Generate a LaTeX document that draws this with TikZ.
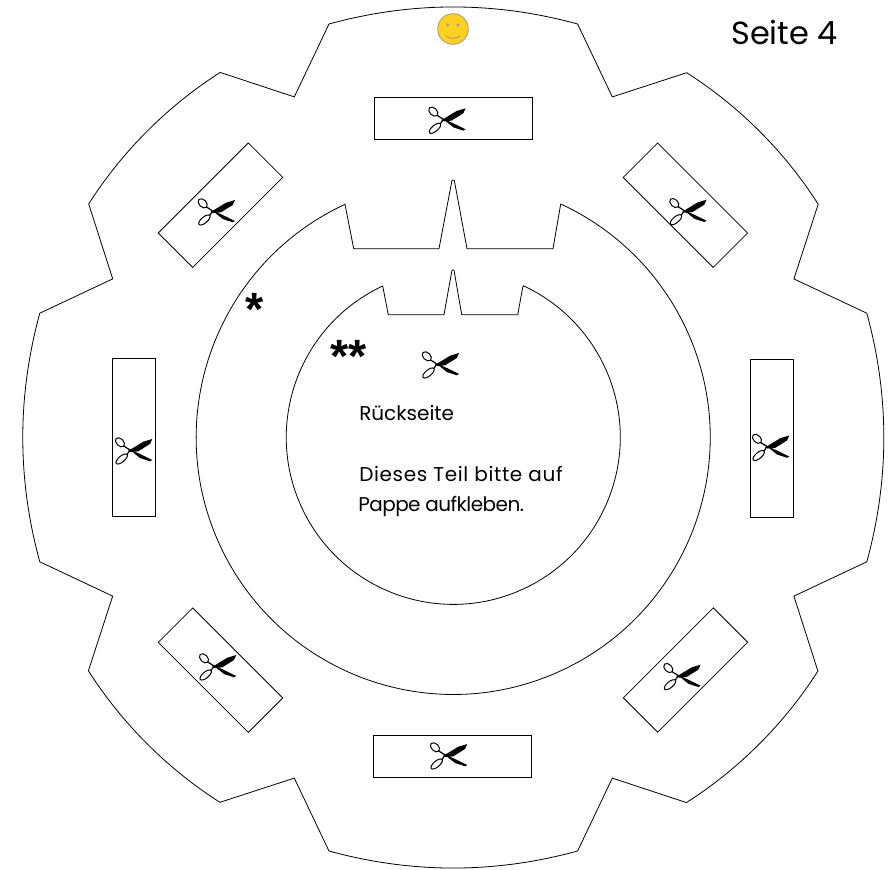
\documentclass[tikz,border=0pt]{standalone}
\usepackage{fontspec}
\setmainfont{Poppins}
\newfontfamily\starfont{Liberation Sans}
\usepackage{tikz}
\usetikzlibrary{positioning}
\definecolor{smileyfill}{HTML}{FFD11F}
\definecolor{smileyline}{HTML}{A09A88}
\tikzstyle{cutline}=[draw=black, line width=0.6pt, line join=miter]
\tikzstyle{strip}=[rectangle, draw=black, line width=0.6pt, inner sep=0pt]
\tikzstyle{flat}=[strip, minimum width=118.5pt, minimum height=32pt]
\tikzstyle{upright}=[strip, minimum width=32pt, minimum height=118.5pt]
\tikzstyle{slant}=[strip, minimum width=95.5pt, minimum height=36.5pt]
\tikzstyle{lab}=[font=\fontsize{15}{18}\selectfont, anchor=base west, inner sep=0pt]
\tikzstyle{starlab}=[font=\fontsize{35}{35}\selectfont\starfont\bfseries, anchor=base, inner sep=0pt]
\tikzset{
  scissors/.pic={
    \fill (-2,-1) -- (13.3,8.3) -- (22.3,11) -- (20,6) -- (8.3,-1.3) -- (1,-2) -- cycle;
    \fill (-1,1) -- (10,-4) -- (22.3,-10) -- (20,-11.3) -- (10,-8) -- (1.7,-1.3) -- cycle;
    \draw[line width=0.9pt] (0,0) -- (-6.5,4.2);
    \draw[line width=0.9pt] (0,0) -- (-3,-4.5);
    \draw[line width=0.75pt,rotate around={-45:(-10,7.7)}] (-10,7.7) ellipse (5.4 and 3.6);
    \draw[line width=0.75pt,rotate around={40:(-8.3,-9)}] (-8.3,-9) ellipse (7 and 3);
  }
}
\begin{document}
\begin{tikzpicture}[x=0.75pt, y=0.75pt]
  \useasboundingbox (-453.3,-431.5) rectangle (438.7,437.5);
  % outer gear
  \draw[cutline] (-124.3,413.5) .. controls (-41.4,436.2) and (41.4,436.2) .. (124.3,413.5)
    -- (159,340.6) -- (233.4,364.8) arc[start angle=57.4, end angle=32.6, radius=433]
    -- (340.6,158.6) -- (413.5,124.3) .. controls (436.2,41.4) and (436.2,-41.4) .. (413.5,-124.3)
    -- (340.6,-158.6) -- (364.6,-233.6) arc[start angle=-32.6, end angle=-57.4, radius=433]
    -- (159,-340.6) -- (124.3,-413.5) .. controls (41.4,-436.2) and (-41.4,-436.2) .. (-124.3,-413.5)
    -- (-159,-340.6) -- (-233.4,-364.8) arc[start angle=-122.6, end angle=-147.4, radius=433]
    -- (-340.6,-158.6) -- (-413.5,-124.3) .. controls (-436.2,-41.4) and (-436.2,41.4) .. (-413.5,124.3)
    -- (-340.6,158.6) -- (-364.6,233.6) arc[start angle=147.4, end angle=122.6, radius=433]
    -- (-159,340.6) -- cycle;
  % middle ring
  \draw[cutline] (107.4,233.5) -- (99.7,188.8) -- (13.7,188.8) -- (1,257.2) -- (-1.3,257.2)
    -- (-14.3,188.8) -- (-99.6,188.8) -- (-108.3,233.2)
    arc[start angle=114.9, end angle=425.3, radius=257];
  % inner disc
  \draw[cutline] (69.7,151.5) -- (64.4,122.8) -- (8.4,122.8) -- (0.7,167.5) -- (-1.3,167.5)
    -- (-9.3,122.8) -- (-65,122.8) -- (-70.6,151.5)
    arc[start angle=115, end angle=425.3, radius=167];
  % strips
  \node[flat] (stripN) at (-0.3,319) {};
  \node[flat] (stripS) at (-0.5,-319) {};
  \node[upright] (stripW) at (-319.3,0.3) {};
  \node[upright] (stripE) at (318.7,-0.5) {};
  \node[slant, rotate=45] (stripNW) at (-232.8,232.3) {};
  \node[slant, rotate=-45] (stripNE) at (232.1,232.3) {};
  \node[slant, rotate=-45] (stripSW) at (-232.8,-232.7) {};
  \node[slant, rotate=45] (stripSE) at (232.2,-232.5) {};
  % scissors
  \pic at (-10,318.2) {scissors};
  \pic at (-240.6,226.5) {scissors};
  \pic at (231,226.8) {scissors};
  \pic at (-323.3,-12.5) {scissors};
  \pic at (313.7,-9) {scissors};
  \pic at (-239.3,-228.5) {scissors};
  \pic at (225,-238.2) {scissors};
  \pic at (-8.3,-317.5) {scissors};
  \pic at (-16.5,73.5) {scissors};
  % smiley
  \node[circle, fill=smileyfill, draw=smileyline, line width=0.6pt, minimum size=23pt, inner sep=0pt] (smiley) at (-0.3,408.5) {};
  \fill[smileyline] (-5.5,412.5) circle (1.6);
  \fill[smileyline] (4.7,412.5) circle (1.6);
  \draw[smileyline, line width=0.7pt] (-7.5,401.5) .. controls (-3,398.5) and (2,398.5) .. (7,401.5);
  % labels
  \node[lab, font=\fontsize{24}{28}\selectfont] (pagelab) at (277.7,393.2) {Seite 4};
  \node[lab] (backlab) at (-94.3,17.5) {Rückseite};
  \node[lab] (hintlab) at (-94.3,-44.2) {\addfontfeature{LetterSpace=3.3}Dieses Teil bitte auf};
  \node[lab] (cardlab) at (-95.3,-74.2) {\addfontfeature{LetterSpace=-2.7}Pappe aufkleben.};
  \node[starlab] (ringstar) at (-199,112) {*};
  \node[starlab] (discstar) at (-105,65) {**};
\end{tikzpicture}
\end{document}
